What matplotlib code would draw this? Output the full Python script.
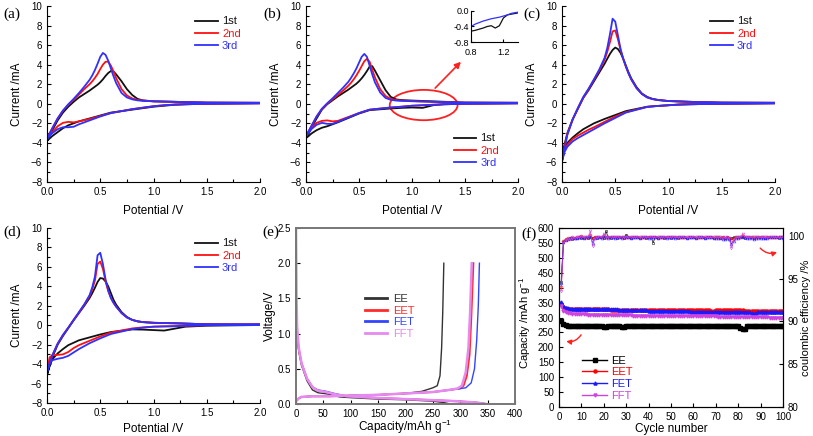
import matplotlib
matplotlib.use('Agg')
import matplotlib.pyplot as plt
from matplotlib.patches import Ellipse
from matplotlib.ticker import MultipleLocator

plt.rcParams['font.family'] = ['Liberation Sans', 'DejaVu Sans']
plt.rcParams['xtick.direction'] = 'in'
plt.rcParams['ytick.direction'] = 'in'
plt.rcParams['mathtext.default'] = 'regular'

# ---------------- CV data (potential grids shared by all panels) ----------------
v_up = [0, 0.05, 0.1, 0.15, 0.2, 0.25, 0.3, 0.35, 0.4, 0.425, 0.45, 0.475, 0.5, 0.525,
        0.55, 0.575, 0.6, 0.625, 0.65, 0.7, 0.75, 0.8, 0.85, 0.9, 1.0, 1.2, 1.5, 2.0]
v_down = [2.0, 1.5, 1.3, 1.2, 1.1, 1.0, 0.9, 0.8, 0.6, 0.5, 0.4, 0.3, 0.25, 0.2, 0.15,
          0.1, 0.05, 0.025, 0]

cycles_cv = ['1st', '2nd', '3rd']

a1_up = [-3.8, -2.7, -1.7, -0.9, -0.3, 0.2, 0.65, 1.0, 1.35, 1.55, 1.75, 1.95, 2.2, 2.5,
         2.85, 3.15, 3.35, 3.3, 3.0, 2.3, 1.5, 0.9, 0.5, 0.35, 0.25, 0.2, 0.12, 0.1]
a2_up = [-3.5, -2.5, -1.5, -0.7, -0.1, 0.4, 0.95, 1.5, 2.0, 2.3, 2.65, 3.05, 3.55, 4.0,
         4.3, 4.3, 3.9, 3.3, 2.6, 1.5, 0.85, 0.55, 0.4, 0.33, 0.25, 0.2, 0.12, 0.1]
a3_up = [-3.6, -2.5, -1.5, -0.7, -0.05, 0.5, 1.1, 1.75, 2.45, 2.9, 3.45, 4.1, 4.8, 5.2,
         5.0, 4.4, 3.6, 2.8, 2.1, 1.1, 0.65, 0.45, 0.35, 0.3, 0.25, 0.2, 0.12, 0.1]
a1_down = [0.05, 0.0, -0.05, -0.1, -0.2, -0.3, -0.45, -0.6, -0.9, -1.2, -1.5, -1.8, -2.0,
           -2.2, -2.5, -2.9, -3.3, -3.55, -3.8]
a2_down = [0.05, 0.0, -0.05, -0.08, -0.15, -0.25, -0.4, -0.55, -0.95, -1.25, -1.55, -1.8,
           -1.9, -1.85, -1.95, -2.3, -2.9, -3.2, -3.5]
a3_down = [0.05, 0.0, -0.05, -0.08, -0.15, -0.25, -0.4, -0.55, -0.95, -1.3, -1.7, -2.1,
           -2.35, -2.4, -2.4, -2.6, -3.0, -3.3, -3.6]

b1_up = [-3.5, -2.5, -1.5, -0.6, -0.05, 0.35, 0.75, 1.1, 1.45, 1.65, 1.85, 2.05, 2.3, 2.6,
         2.95, 3.35, 3.8, 3.85, 3.4, 2.4, 1.4, 0.7, 0.45, 0.38, 0.33, 0.25, 0.12, 0.1]
b2_up = [-3.3, -2.3, -1.3, -0.55, 0.0, 0.45, 0.9, 1.35, 1.85, 2.15, 2.5, 2.9, 3.35, 3.85,
         4.35, 4.6, 4.3, 3.5, 2.7, 1.5, 0.8, 0.5, 0.38, 0.33, 0.28, 0.2, 0.12, 0.1]
b3_up = [-3.3, -2.3, -1.3, -0.5, 0.05, 0.55, 1.1, 1.65, 2.25, 2.65, 3.1, 3.6, 4.2, 4.8,
         5.1, 4.8, 3.9, 3.0, 2.2, 1.15, 0.6, 0.4, 0.33, 0.3, 0.26, 0.2, 0.12, 0.1]
b1_down = [0.05, 0.0, -0.05, -0.15, -0.42, -0.38, -0.42, -0.48, -0.65, -1.0, -1.45, -1.9,
           -2.1, -2.3, -2.45, -2.7, -3.05, -3.3, -3.5]
b2_down = [0.05, 0.0, -0.05, -0.1, -0.15, -0.2, -0.3, -0.38, -0.6, -0.95, -1.35, -1.75,
           -1.8, -1.7, -1.75, -1.95, -2.5, -2.9, -3.3]
b3_down = [0.05, 0.0, -0.05, -0.1, -0.15, -0.2, -0.3, -0.38, -0.6, -0.95, -1.4, -1.85,
           -2.05, -2.05, -1.95, -2.15, -2.6, -3.0, -3.3]

# inset of (b)
ins_v = [0.8, 0.85, 0.9, 0.95, 1.0, 1.05, 1.1, 1.15, 1.2, 1.25, 1.3, 1.38]
ins_1st = [-0.52, -0.5, -0.47, -0.44, -0.4, -0.38, -0.44, -0.38, -0.18, -0.1, -0.08, -0.05]
ins_3rd = [-0.4, -0.34, -0.3, -0.26, -0.23, -0.2, -0.18, -0.16, -0.13, -0.1, -0.06, -0.03]

c1_up = [-5.2, -3.0, -1.6, -0.5, 0.6, 1.4, 2.3, 3.2, 4.1, 4.6, 5.1, 5.5, 5.75, 5.6,
         5.2, 4.6, 3.9, 3.2, 2.6, 1.7, 1.05, 0.7, 0.5, 0.4, 0.28, 0.2, 0.12, 0.1]
c2_up = [-5.6, -3.1, -1.6, -0.45, 0.65, 1.5, 2.45, 3.4, 4.5, 5.3, 6.3, 7.4, 7.5, 6.6,
         5.5, 4.6, 3.8, 3.1, 2.5, 1.6, 1.0, 0.65, 0.48, 0.38, 0.28, 0.2, 0.12, 0.1]
c3_up = [-5.9, -3.2, -1.6, -0.4, 0.7, 1.55, 2.5, 3.5, 4.7, 5.7, 7.1, 8.7, 8.4, 7.0,
         5.6, 4.6, 3.8, 3.1, 2.5, 1.6, 1.0, 0.65, 0.48, 0.38, 0.28, 0.2, 0.12, 0.1]
c1_down = [0.05, 0.0, -0.03, -0.05, -0.08, -0.15, -0.22, -0.3, -0.75, -1.15, -1.55, -2.0,
           -2.3, -2.6, -3.0, -3.45, -4.0, -4.5, -5.2]
c2_down = [0.05, 0.0, -0.03, -0.05, -0.08, -0.15, -0.22, -0.32, -0.85, -1.3, -1.85, -2.4,
           -2.65, -2.95, -3.25, -3.6, -4.2, -4.7, -5.6]
c3_down = [0.05, 0.0, -0.03, -0.05, -0.08, -0.15, -0.22, -0.32, -0.9, -1.45, -2.0, -2.6,
           -2.9, -3.2, -3.5, -3.85, -4.4, -4.9, -5.9]

d1_up = [-5.1, -3.3, -2.0, -1.1, -0.3, 0.5, 1.25, 2.0, 2.8, 3.3, 3.85, 4.45, 4.85, 4.8,
         4.5, 4.0, 3.3, 2.6, 2.1, 1.35, 0.85, 0.55, 0.4, 0.32, 0.25, 0.2, 0.1, 0.08]
d2_up = [-4.6, -3.1, -1.9, -1.0, -0.25, 0.55, 1.3, 2.1, 3.0, 3.7, 4.6, 6.3, 6.55, 5.8,
         4.5, 3.5, 2.8, 2.3, 1.9, 1.25, 0.8, 0.55, 0.4, 0.32, 0.25, 0.2, 0.1, 0.08]
d3_up = [-4.8, -3.1, -1.9, -1.0, -0.25, 0.55, 1.35, 2.15, 3.1, 3.9, 5.0, 7.2, 7.45, 6.3,
         4.7, 3.6, 2.8, 2.3, 1.9, 1.25, 0.8, 0.55, 0.4, 0.32, 0.25, 0.2, 0.1, 0.08]
d1_down = [0.02, -0.05, -0.15, -0.35, -0.55, -0.5, -0.45, -0.43, -0.7, -0.95, -1.25, -1.55,
           -1.8, -2.05, -2.45, -2.9, -3.5, -4.1, -5.1]
d2_down = [0.05, 0.0, -0.05, -0.1, -0.12, -0.15, -0.22, -0.33, -0.75, -1.15, -1.6, -2.05,
           -2.35, -2.75, -3.0, -3.05, -3.1, -3.3, -4.6]
d3_down = [0.05, 0.0, -0.05, -0.1, -0.12, -0.15, -0.25, -0.4, -0.9, -1.35, -1.85, -2.45,
           -2.8, -3.15, -3.35, -3.45, -3.6, -3.9, -4.8]

# ---------------- (e) charge / discharge profiles ----------------
samples = ['EE', 'EET', 'FET', 'FFT']

cap_dis_EE = [0, 2, 5, 10, 20, 30, 40, 60, 80, 100, 150, 200, 250, 270, 282]
v_dis_EE = [1.3, 1.0, 0.75, 0.55, 0.33, 0.2, 0.16, 0.14, 0.1, 0.09, 0.07, 0.06, 0.04, 0.02, 0.0]
cap_chg_EE = [0, 5, 10, 30, 60, 100, 150, 200, 230, 250, 258, 263, 266, 268, 270]
v_chg_EE = [0.06, 0.08, 0.1, 0.11, 0.11, 0.12, 0.13, 0.15, 0.18, 0.23, 0.26, 0.4, 0.8, 1.3, 2.0]

cap_dis_EET = [0, 2, 5, 10, 20, 30, 40, 55, 70, 93, 150, 233, 293, 330, 348]
v_dis_EET = [1.4, 1.0, 0.78, 0.58, 0.36, 0.24, 0.19, 0.17, 0.14, 0.11, 0.085, 0.06, 0.04, 0.02, 0.0]
cap_chg_EET = [0, 5, 10, 30, 60, 100, 150, 200, 250, 280, 300, 306, 312, 317, 320, 322, 324]
v_chg_EET = [0.04, 0.08, 0.1, 0.11, 0.11, 0.12, 0.13, 0.15, 0.17, 0.2, 0.22, 0.26, 0.4, 0.7, 1.2, 1.6, 2.0]

cap_dis_FET = [0, 2, 5, 10, 20, 30, 40, 55, 70, 93, 150, 233, 293, 330, 350]
v_dis_FET = [1.3, 1.0, 0.78, 0.58, 0.36, 0.24, 0.2, 0.18, 0.15, 0.11, 0.085, 0.06, 0.04, 0.02, 0.0]
cap_chg_FET = [0, 5, 10, 30, 60, 100, 150, 200, 250, 280, 300, 310, 320, 326, 330, 333, 335]
v_chg_FET = [0.04, 0.08, 0.1, 0.11, 0.11, 0.12, 0.13, 0.15, 0.17, 0.2, 0.22, 0.23, 0.3, 0.5, 0.9, 1.4, 2.0]

cap_dis_FFT = [0, 1, 2, 5, 10, 20, 30, 40, 55, 70, 93, 150, 233, 293, 330, 346]
v_dis_FFT = [2.5, 1.5, 1.1, 0.8, 0.58, 0.36, 0.24, 0.19, 0.17, 0.14, 0.11, 0.085, 0.06, 0.04, 0.02, 0.0]
cap_chg_FFT = [0, 5, 10, 30, 60, 100, 150, 200, 250, 280, 295, 303, 310, 315, 318, 321]
v_chg_FFT = [0.04, 0.08, 0.1, 0.11, 0.11, 0.12, 0.13, 0.15, 0.17, 0.2, 0.22, 0.26, 0.45, 0.8, 1.3, 2.0]

# ---------------- (f) cycling ----------------
cycle_no = list(range(1, 101))

cap_EE = [287, 279, 275, 273, 272, 272, 272, 272, 272, 272,
          272, 272, 272, 272, 272, 272, 272, 271, 270, 268,
          268, 270, 271, 271, 271, 271, 270, 268, 269, 271,
          272, 272, 272, 272, 272, 272, 272, 272, 272, 272,
          272, 272, 272, 272, 272, 272, 272, 272, 272, 272,
          272, 272, 272, 272, 272, 272, 272, 272, 272, 272,
          272, 272, 272, 272, 272, 272, 272, 272, 272, 272,
          272, 272, 272, 272, 272, 272, 272, 272, 272, 272,
          265, 263, 263, 271, 272, 272, 272, 272, 272, 272,
          272, 272, 272, 272, 272, 272, 272, 272, 272, 272]
cap_EET = [345, 336, 331, 330, 329, 329, 328, 328, 328, 328,
           328, 328, 328, 327, 327, 327, 327, 327, 327, 327,
           327, 327, 326, 326, 326, 326, 326, 326, 326, 326,
           326, 326, 326, 326, 325, 325, 325, 325, 325, 325,
           325, 325, 325, 325, 325, 325, 325, 325, 325, 325,
           325, 325, 325, 325, 324, 324, 324, 324, 324, 324,
           324, 324, 324, 324, 324, 324, 324, 322, 322, 324,
           324, 324, 324, 324, 324, 324, 324, 324, 324, 324,
           324, 324, 323, 323, 321, 323, 323, 323, 323, 323,
           323, 323, 323, 323, 323, 323, 323, 323, 323, 323]
cap_FET = [352, 340, 333, 331, 330, 330, 330, 330, 330, 330,
           330, 330, 330, 329, 329, 329, 329, 328, 328, 328,
           328, 328, 327, 327, 327, 327, 326, 326, 326, 326,
           325, 325, 325, 325, 324, 324, 324, 324, 324, 323,
           323, 323, 323, 323, 322, 322, 322, 322, 322, 322,
           322, 321, 321, 321, 321, 321, 321, 321, 320, 320,
           320, 320, 320, 320, 320, 320, 320, 319, 319, 319,
           319, 319, 319, 319, 319, 319, 319, 319, 319, 319,
           318, 318, 318, 318, 317, 315, 313, 316, 318, 318,
           318, 318, 318, 318, 318, 318, 318, 318, 318, 318]
cap_FFT = [340, 322, 317, 315, 314, 313, 313, 312, 312, 311,
           311, 311, 310, 310, 310, 310, 309, 309, 308, 308,
           308, 308, 308, 308, 307, 307, 307, 307, 307, 307,
           307, 307, 306, 306, 306, 306, 306, 306, 306, 306,
           306, 305, 305, 305, 305, 305, 305, 305, 305, 305,
           305, 305, 305, 304, 304, 304, 304, 304, 304, 304,
           304, 304, 304, 304, 304, 304, 304, 304, 304, 304,
           303, 303, 303, 303, 303, 303, 303, 303, 303, 303,
           302, 302, 302, 302, 302, 302, 302, 302, 302, 302,
           301, 301, 301, 300, 300, 300, 300, 300, 300, 300]

ce_EE = [94.6, 99.3, 99.5, 99.6, 99.7, 99.6, 99.7, 99.7, 99.8, 99.7,
         99.7, 99.8, 99.7, 99.8, 99.7, 99.8, 99.7, 99.8, 99.8, 99.7,
         100.5, 99.8, 99.7, 99.8, 99.8, 99.7, 99.8, 99.9, 99.7, 100.1,
         99.8, 99.7, 99.8, 99.8, 99.9, 99.7, 99.8, 99.8, 99.7, 99.8,
         99.9, 99.2, 99.8, 99.7, 99.8, 99.8, 99.7, 99.8, 99.8, 99.7,
         99.8, 99.8, 99.7, 99.8, 99.8, 99.8, 99.7, 99.8, 99.8, 99.8,
         99.7, 99.8, 99.8, 99.8, 99.7, 99.8, 99.8, 99.8, 99.7, 99.8,
         99.8, 99.7, 99.8, 99.7, 99.8, 99.7, 99.7, 99.8, 99.8, 99.8,
         99.9, 99.8, 99.7, 99.8, 99.8, 99.8, 99.7, 99.8, 99.8, 99.8,
         99.8, 99.7, 99.8, 99.8, 99.8, 99.8, 99.8, 99.7, 99.8, 99.8]
ce_EET = [94.0, 99.4, 99.6, 99.7, 99.7, 99.8, 99.7, 99.8, 99.9, 100.0,
          99.8, 99.8, 99.9, 100.1, 99.7, 99.8, 99.8, 99.9, 99.8, 100.0,
          99.8, 99.8, 99.9, 99.8, 99.8, 99.9, 99.8, 99.8, 99.9, 99.8,
          99.8, 99.9, 99.8, 99.8, 99.9, 99.8, 99.8, 99.8, 99.9, 99.8,
          99.8, 99.9, 99.8, 99.8, 99.8, 99.9, 99.8, 99.8, 99.8, 99.9,
          99.8, 99.8, 99.8, 99.9, 99.8, 99.8, 99.8, 99.8, 99.9, 99.8,
          99.8, 99.8, 99.9, 99.8, 99.8, 99.8, 99.8, 99.9, 99.8, 99.8,
          99.8, 99.8, 99.8, 99.7, 99.8, 99.7, 99.5, 99.7, 99.8, 99.8,
          99.9, 100.0, 99.8, 99.8, 99.8, 99.8, 99.8, 99.8, 99.8, 99.8,
          99.8, 99.8, 99.8, 99.9, 99.8, 99.8, 99.8, 99.8, 99.8, 99.8]
ce_FET = [94.5, 99.3, 99.5, 99.6, 99.7, 99.7, 99.7, 99.7, 99.8, 99.8,
          99.7, 99.8, 99.8, 99.9, 99.2, 99.7, 99.8, 99.8, 99.7, 99.9,
          99.8, 99.7, 99.8, 99.8, 99.7, 99.8, 99.8, 99.7, 99.8, 99.8,
          99.8, 99.7, 99.8, 99.8, 99.8, 99.7, 99.8, 99.8, 99.8, 99.7,
          99.8, 99.8, 99.8, 99.7, 99.8, 99.8, 99.8, 99.7, 99.8, 99.8,
          99.8, 99.7, 99.8, 99.8, 99.8, 99.8, 99.7, 99.8, 99.8, 99.8,
          99.7, 99.8, 99.8, 99.8, 99.7, 99.8, 99.8, 99.8, 99.7, 99.7,
          99.7, 99.7, 99.6, 99.6, 99.7, 99.6, 99.0, 99.4, 99.7, 99.7,
          99.8, 99.8, 99.8, 99.7, 99.7, 99.7, 99.6, 99.7, 99.7, 99.7,
          99.7, 99.7, 99.7, 99.8, 99.8, 99.8, 99.8, 99.8, 99.8, 99.7]
ce_FFT = [93.6, 99.2, 99.5, 99.6, 99.6, 99.7, 99.7, 99.8, 99.8, 99.9,
          99.8, 99.9, 99.9, 100.5, 98.8, 99.7, 99.8, 99.9, 99.8, 100.2,
          99.8, 99.8, 99.9, 99.8, 99.8, 99.9, 99.8, 99.9, 99.8, 99.9,
          99.8, 99.9, 99.8, 99.8, 99.9, 99.8, 99.8, 99.9, 99.8, 99.8,
          99.9, 99.8, 99.8, 99.9, 99.8, 99.8, 99.9, 99.8, 99.8, 99.8,
          99.9, 99.8, 99.8, 99.8, 99.9, 99.8, 99.8, 99.8, 99.8, 99.9,
          99.8, 99.8, 99.8, 99.8, 99.9, 99.8, 99.8, 99.8, 99.8, 99.8,
          99.8, 99.8, 99.7, 99.8, 99.7, 99.7, 98.6, 99.5, 99.8, 99.8,
          99.9, 100.2, 99.9, 99.8, 99.8, 99.8, 99.8, 99.9, 99.8, 99.8,
          99.8, 99.8, 99.8, 99.8, 99.9, 99.8, 99.8, 99.8, 99.8, 99.8]

cv_colors = ['#111111', '#ff1010', '#3030ff']
e_colors = ['#333333', '#ff2a2a', '#3344ff', '#e58af0']
f_colors = ['#000000', '#ff0000', '#1a1aff', '#cc44dd']
f_markers = ['s', 'o', '^', 'v']

W, H = 813, 436
fig = plt.figure(figsize=(W / 100, H / 100), dpi=100)


def px_axes(x0, y0, x1, y1):
    return fig.add_axes([x0 / W, 1 - y1 / H, (x1 - x0) / W, (y1 - y0) / H])


def cv_panel(ax, ups, downs, leg_anchor, xlab_y=-0.13):
    for up, down, col, lab in zip(ups, downs, cv_colors, cycles_cv):
        ax.plot(v_up + v_down, up + down, color=col, lw=1.3, label=lab)
    ax.set_xlim(0, 2.0)
    ax.set_ylim(-8, 10)
    ax.xaxis.set_major_locator(MultipleLocator(0.5))
    ax.xaxis.set_minor_locator(MultipleLocator(0.25))
    ax.yaxis.set_major_locator(MultipleLocator(2))
    ax.yaxis.set_minor_locator(MultipleLocator(1))
    ax.xaxis.set_major_formatter(plt.FuncFormatter(lambda v, p: f'{v:.1f}'))
    ax.spines['top'].set_visible(False)
    ax.spines['right'].set_visible(False)
    ax.tick_params(labelsize=7, length=3, width=0.8)
    ax.tick_params(which='minor', length=2, width=0.8)
    ax.set_xlabel('Potential /V', fontsize=8.5)
    ax.set_ylabel('Current /mA', fontsize=8.5)
    ax.yaxis.set_label_coords(-0.115, 0.5)
    ax.xaxis.set_label_coords(0.5, xlab_y)
    ax.legend(loc='upper left', bbox_to_anchor=leg_anchor, frameon=False, fontsize=8,
              labelcolor='linecolor', handlelength=2.0, handletextpad=0.4,
              labelspacing=0.2, borderpad=0.2)


ax_a = px_axes(47, 6, 260, 182)
cv_panel(ax_a, [a1_up, a2_up, a3_up], [a1_down, a2_down, a3_down], (0.66, 0.985))

ax_b = px_axes(306, 6, 518, 182)
cv_panel(ax_b, [b1_up, b2_up, b3_up], [b1_down, b2_down, b3_down], (0.66, 0.32))
ax_b.add_patch(Ellipse((1.11, -0.13), 0.64, 3.1, fill=False, edgecolor='#ff2020', lw=1.3))
ax_b.annotate('', xy=(1.48, 4.5), xytext=(1.2, 1.4),
              arrowprops=dict(arrowstyle='-|>', color='#ff2020', lw=1.2, mutation_scale=9))

ax_in = px_axes(471, 11, 518, 42)
ax_in.plot(ins_v, ins_1st, color=cv_colors[0], lw=0.9)
ax_in.plot(ins_v, ins_3rd, color=cv_colors[2], lw=0.9)
ax_in.set_xlim(0.8, 1.38)
ax_in.set_ylim(-0.8, 0.0)
ax_in.set_xticks([0.8, 1.2])
ax_in.set_yticks([0.0, -0.4, -0.8])
ax_in.set_yticklabels(['0.0', '-0.4', '-0.8'])
ax_in.spines['top'].set_visible(False)
ax_in.spines['right'].set_visible(False)
ax_in.tick_params(labelsize=6.5, length=2)
ax_in.tick_params(axis='y', pad=1.5)
ax_in.tick_params(axis='x', pad=4)

ax_c = px_axes(562, 6, 775, 182)
cv_panel(ax_c, [c1_up, c2_up, c3_up], [c1_down, c2_down, c3_down], (0.66, 0.985))

ax_d = px_axes(47, 228, 260, 403)
cv_panel(ax_d, [d1_up, d2_up, d3_up], [d1_down, d2_down, d3_down], (0.66, 0.985),
         xlab_y=-0.115)

# ---------------- (e) ----------------
ax_e = px_axes(296, 228, 515, 404)
dis = [(cap_dis_EE, v_dis_EE), (cap_dis_EET, v_dis_EET), (cap_dis_FET, v_dis_FET),
       (cap_dis_FFT, v_dis_FFT)]
chg = [(cap_chg_EE, v_chg_EE), (cap_chg_EET, v_chg_EET), (cap_chg_FET, v_chg_FET),
       (cap_chg_FFT, v_chg_FFT)]
e_lw = [1.0, 1.4, 1.0, 1.8]
for (cd, vd), (cc, vc), col, lw, lab in zip(dis, chg, e_colors, e_lw, samples):
    ax_e.plot(cd, vd, color=col, lw=lw, label=lab)
    ax_e.plot(cc, vc, color=col, lw=lw)
ax_e.set_xlim(0, 400)
ax_e.set_ylim(0, 2.5)
ax_e.xaxis.set_major_locator(MultipleLocator(50))
ax_e.yaxis.set_major_locator(MultipleLocator(0.5))
ax_e.yaxis.set_major_formatter(plt.FuncFormatter(lambda v, p: f'{v:.1f}'))
for s in ax_e.spines.values():
    s.set_color('#777777')
    s.set_linewidth(1.4)
ax_e.tick_params(labelsize=7, length=3, width=0.8)
ax_e.set_xlabel('Capacity/mAh g$^{-1}$', fontsize=8.5)
ax_e.set_ylabel('Voltage/V', fontsize=8.5)
ax_e.yaxis.set_label_coords(-0.09, 0.5)
ax_e.xaxis.set_label_coords(0.5, -0.08)
leg_e = ax_e.legend(loc='upper left', bbox_to_anchor=(0.28, 0.67), frameon=False, fontsize=8,
                    labelcolor='linecolor', handlelength=2.0, handletextpad=0.5,
                    labelspacing=0.15, borderpad=0.2)
for ln in leg_e.get_lines():
    ln.set_linewidth(2.0)

# ---------------- (f) ----------------
ax_f = px_axes(559, 228, 783, 407)
ax_f2 = ax_f.twinx()
caps = [cap_EE, cap_EET, cap_FET, cap_FFT]
ces = [ce_EE, ce_EET, ce_FET, ce_FFT]
for cap, ce, col, mk, lab in zip(caps, ces, f_colors, f_markers, samples):
    ax_f.plot(cycle_no, cap, color=col, lw=1.0, marker=mk, markersize=2.2, label=lab)
    ax_f2.plot(cycle_no, ce, color=col, lw=0.7, marker=mk, markersize=2.0,
               markerfacecolor='none', markeredgewidth=0.5, alpha=0.75)
ax_f.set_xlim(0, 100)
ax_f.set_ylim(0, 600)
ax_f2.set_ylim(80, 100.9)
ax_f.xaxis.set_major_locator(MultipleLocator(10))
ax_f.yaxis.set_major_locator(MultipleLocator(50))
ax_f2.yaxis.set_major_locator(MultipleLocator(5))
ax_f.tick_params(labelsize=7, length=3, width=0.8)
ax_f2.tick_params(labelsize=7, length=3, width=0.8)
ax_f.set_xlabel('Cycle number', fontsize=8.5)
ax_f.set_ylabel('Capacity /mAh g$^{-1}$', fontsize=8)
ax_f2.set_ylabel('coulombic efficiency /%', fontsize=8)
ax_f.yaxis.set_label_coords(-0.115, 0.47)
ax_f2.yaxis.set_label_coords(1.08, 0.5)
ax_f.xaxis.set_label_coords(0.5, -0.09)
ax_f.legend(loc='upper left', bbox_to_anchor=(0.07, 0.33), frameon=False, fontsize=8,
            labelcolor='linecolor', handlelength=2.2, handletextpad=0.4,
            labelspacing=0.15, borderpad=0.2)
ax_f.annotate('', xy=(2, 222), xytext=(10.5, 250),
              arrowprops=dict(arrowstyle='-|>', color='#ff2020', lw=1.0, mutation_scale=7,
                              connectionstyle='arc3,rad=-0.4'))
ax_f2.annotate('', xy=(98.5, 98.2), xytext=(89, 98.8),
               arrowprops=dict(arrowstyle='-|>', color='#ff2020', lw=1.0, mutation_scale=7,
                               connectionstyle='arc3,rad=0.4'))

# panel letters
serif = ['Liberation Serif', 'DejaVu Serif']
for x, y, t in [(3, 14, '(a)'), (263, 14, '(b)'), (523, 14, '(c)'),
                (3, 232, '(d)'), (262, 232, '(e)'), (521, 234, '(f)')]:
    fig.text(x / W, 1 - y / H, t, family=serif, fontsize=11, va='center', ha='left')

fig.savefig('out.png', dpi=100)
